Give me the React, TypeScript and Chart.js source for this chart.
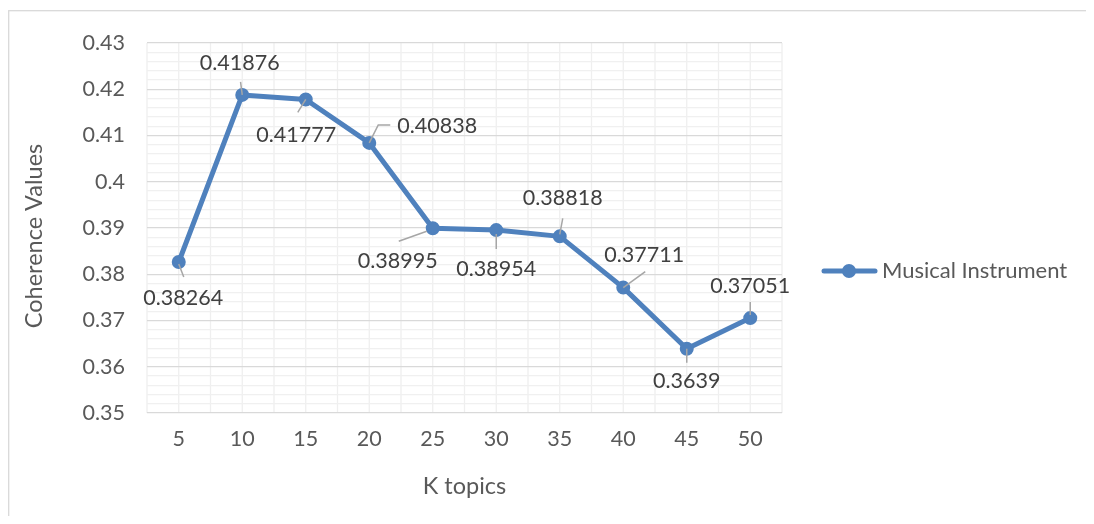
import React, { useEffect, useRef } from "react";
import { Chart, registerables } from "chart.js";

Chart.register(...registerables);

const categories = ["5", "10", "15", "20", "25", "30", "35", "40", "45", "50"];
const coherenceValues = [0.38264, 0.41876, 0.41777, 0.40838, 0.38995, 0.38954, 0.38818, 0.37711, 0.3639, 0.37051];
const valueLabels = ["0.38264", "0.41876", "0.41777", "0.40838", "0.38995", "0.38954", "0.38818", "0.37711", "0.3639", "0.37051"];
const seriesName = "Musical Instrument";
const xTitle = "K topics";
const yTitle = "Coherence Values";
const yMin = 0.35;
const yMax = 0.43;

// label placement relative to each point: label centre offset and leader polyline
const labelOffsets: [number, number][] = [
  [4.5, 36], [-2.5, -31.5], [-9.5, 35.5], [68, -16.5], [-35, 32.5],
  [0, 39], [3, -38], [21, -32.5], [0, 32], [0, -32.5],
];
const leaders: [number, number][][] = [
  [[0, 2], [5, 15]],
  [[-1.7, -13], [0, 0]],
  [[0, 0], [-8, 13]],
  [[0, 0], [9, -18], [21, -18]],
  [[-6, 3], [-34, 13]],
  [[0, 4], [0, 19]],
  [[0, -2], [3, -18]],
  [[0, 0], [22, -16]],
  [[0, 0], [0, 14]],
  [[0, -3], [0, -16]],
];

const BLUE = "#4f81bd";
const FONT = "Lato, 'Open Sans', sans-serif";
const FS = 21.5;
const FS_LEGEND = 22;
const FS_TITLE = 23.5;

const isMajor = (v: number) => Math.abs(Math.round(v * 100) - v * 100) < 1e-6;

const decorPlugin = {
  id: "decor",
  beforeDraw(chart: any) {
    const { ctx, chartArea } = chart;
    const xs = chart.scales.x;
    ctx.save();
    // outer border
    ctx.strokeStyle = "#d9d9d9";
    ctx.lineWidth = 1.3;
    ctx.strokeRect(0.7, 2.7, 3000, 3000);
    // vertical minor grid lines (category centres and boundaries)
    ctx.strokeStyle = "#efefef";
    ctx.lineWidth = 1.3;
    const n = categories.length;
    const step = (chartArea.right - chartArea.left) / n;
    for (let i = 0; i <= 2 * n; i++) {
      const x = i % 2 === 1 ? xs.getPixelForValue((i - 1) / 2) : chartArea.left + (i / 2) * step;
      ctx.beginPath();
      ctx.moveTo(x, chartArea.top);
      ctx.lineTo(x, chartArea.bottom);
      ctx.stroke();
    }
    ctx.restore();
  },
  afterDatasetsDraw(chart: any) {
    const { ctx, chartArea } = chart;
    const meta = chart.getDatasetMeta(0);
    ctx.save();
    // leader lines
    ctx.strokeStyle = "#a6a6a6";
    ctx.lineWidth = 1.5;
    meta.data.forEach((pt: any, i: number) => {
      const seg = leaders[i];
      ctx.beginPath();
      seg.forEach(([dx, dy], j) => {
        if (j === 0) ctx.moveTo(pt.x + dx, pt.y + dy);
        else ctx.lineTo(pt.x + dx, pt.y + dy);
      });
      ctx.stroke();
    });
    // data labels
    ctx.fillStyle = "#404040";
    ctx.font = `${FS}px ${FONT}`;
    ctx.textAlign = "center";
    ctx.textBaseline = "middle";
    meta.data.forEach((pt: any, i: number) => {
      const [dx, dy] = labelOffsets[i];
      ctx.fillText(valueLabels[i], pt.x + dx, pt.y + dy);
    });
    // axis titles
    ctx.fillStyle = "#595959";
    ctx.font = `${FS_TITLE}px ${FONT}`;
    ctx.fillText(xTitle, (chartArea.left + chartArea.right) / 2, 478);
    ctx.save();
    ctx.translate(26, 228);
    ctx.rotate(-Math.PI / 2);
    ctx.fillText(yTitle, 0, 0);
    ctx.restore();
    // legend
    const ly = 263;
    ctx.strokeStyle = BLUE;
    ctx.lineWidth = 5;
    ctx.lineCap = "round";
    ctx.beginPath();
    ctx.moveTo(816, ly);
    ctx.lineTo(867, ly);
    ctx.stroke();
    ctx.fillStyle = BLUE;
    ctx.beginPath();
    ctx.arc(841, ly, 7, 0, Math.PI * 2);
    ctx.fill();
    ctx.fillStyle = "#595959";
    ctx.font = `${FS_LEGEND}px ${FONT}`;
    ctx.textAlign = "left";
    ctx.fillText(seriesName, 874, ly);
    ctx.restore();
  },
};

export default function App() {
  const ref = useRef<HTMLCanvasElement | null>(null);
  useEffect(() => {
    if (!ref.current) return;
    const chart = new Chart(ref.current, {
      type: "line",
      data: {
        labels: categories,
        datasets: [
          {
            label: seriesName,
            data: coherenceValues,
            borderColor: BLUE,
            backgroundColor: BLUE,
            borderWidth: 5,
            borderJoinStyle: "round",
            borderCapStyle: "round",
            pointRadius: 6,
            pointBorderWidth: 2,
            pointBackgroundColor: BLUE,
            pointBorderColor: BLUE,
            tension: 0,
          },
        ],
      },
      options: {
        responsive: false,
        animation: false,
        layout: { padding: { left: 0, top: 32, right: 304, bottom: 0 } },
        plugins: { legend: { display: false }, tooltip: { enabled: false } },
        scales: {
          x: {
            type: "category",
            offset: true,
            grid: { display: false, drawTicks: false },
            border: { display: false },
            ticks: { color: "#595959", font: { family: FONT, size: FS }, padding: 13, maxRotation: 0 },
            afterFit: (s: any) => { s.height = 103; },
          },
          y: {
            min: yMin,
            max: yMax,
            grid: {
              drawTicks: false,
              lineWidth: 1.3,
              color: (c: any) => (c.tick && isMajor(c.tick.value) ? "#d9d9d9" : "#f0f0f0"),
            },
            border: { display: false },
            ticks: {
              stepSize: 0.002,
              maxTicksLimit: 100,
              autoSkip: false,
              padding: 22,
              color: "#595959",
              font: { family: FONT, size: FS },
              callback: (v: any) => (isMajor(Number(v)) ? String(parseFloat(Number(v).toFixed(2))) : ""),
            },
            afterFit: (s: any) => { s.width = 139; },
          },
        },
      },
      plugins: [decorPlugin],
    });
    return () => chart.destroy();
  }, []);
  return (
    <div style={{ width: 1078, height: 508 }}>
      <canvas ref={ref} width={1078} height={508} style={{ display: "block" }} />
    </div>
  );
}
